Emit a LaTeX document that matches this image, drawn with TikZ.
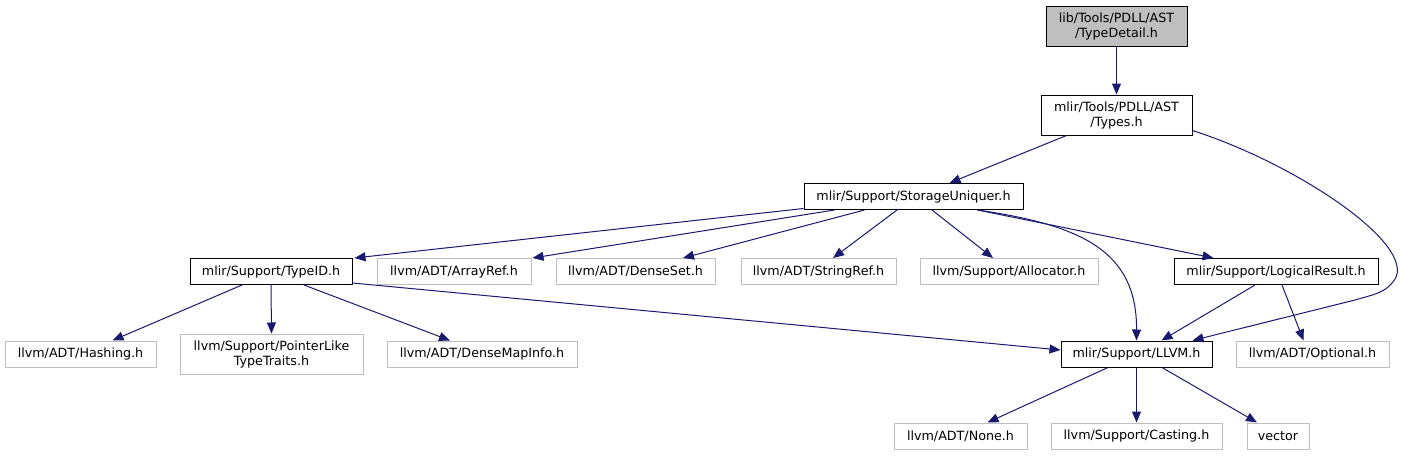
\documentclass[tikz,border=0pt]{standalone}
\usepackage{fontspec}
\setmainfont{DejaVu Sans}
\usepackage{tikz}
\usetikzlibrary{arrows.meta, calc}
\definecolor{doxyedge}{HTML}{191970}
\definecolor{doxygrey}{HTML}{BFBFBF}

\begin{document}
\begin{tikzpicture}[
  x=1pt, y=-1pt,
  file/.style={draw=black, fill=white, line width=1pt, minimum height=26pt, inner sep=1pt, align=center, font=\fontsize{12.7}{15}\selectfont},
  ext/.style={file, draw=doxygrey},
  cur/.style={file, fill=doxygrey},
  arr/.style={-{Triangle[length=11pt,width=9pt]}, doxyedge, line width=1pt}
]
\useasboundingbox (0,0) rectangle (1402,455);

\node[cur, minimum width=141pt, minimum height=40pt] (detail) at (1116.5,26) {lib/Tools/PDLL/AST\\/TypeDetail.h};
\node[file, minimum width=151pt, minimum height=40pt] (types) at (1116.5,115) {mlir/Tools/PDLL/AST\\/Types.h};
\node[file, minimum width=219pt] (su) at (913.5,196.5) {mlir/Support/StorageUniquer.h};

\node[file, minimum width=162pt] (tid) at (271,271.5) {mlir/Support/TypeID.h};
\node[ext, minimum width=154pt] (arrayref) at (454,271.5) {llvm/ADT/ArrayRef.h};
\node[ext, minimum width=159pt] (denseset) at (635.5,271.5) {llvm/ADT/DenseSet.h};
\node[ext, minimum width=155pt] (stringref) at (818.5,271.5) {llvm/ADT/StringRef.h};
\node[ext, minimum width=178pt] (allocator) at (1009,271.5) {llvm/Support/Allocator.h};
\node[file, minimum width=204pt] (logres) at (1276,271.5) {mlir/Support/LogicalResult.h};

\node[ext, minimum width=151pt] (hashing) at (80.5,354) {llvm/ADT/Hashing.h};
\node[ext, minimum width=183pt, minimum height=40pt] (ptrlike) at (271.5,354) {llvm/Support/PointerLike\\TypeTraits.h};
\node[ext, minimum width=190pt] (densemap) at (482,354) {llvm/ADT/DenseMapInfo.h};
\node[file, minimum width=151pt] (llvm) at (1136.5,354) {mlir/Support/LLVM.h};
\node[ext, minimum width=153pt] (optional) at (1312.5,354) {llvm/ADT/Optional.h};

\node[ext, minimum width=133pt] (none) at (960.5,436) {llvm/ADT/None.h};
\node[ext, minimum width=171pt] (casting) at (1136.5,436) {llvm/Support/Casting.h};
\node[ext, minimum width=62pt] (vector) at (1278,436) {vector};

% top of the graph
\draw[arr] (detail.south) -- (types.north);
\draw[arr] ($(types.south west)+(26,0)$) -- ($(su.north)+(36,0)$);
\draw[arr] ($(types.south east)+(0,-5)$) .. controls (1300,165) and (1425,250) .. (1392,283)
  .. controls (1384,293) and (1372,295) .. (1355,300) -- ($(llvm.north east)+(-20,0)$);

% StorageUniquer.h
\draw[arr] ($(su.west)+(0,12)$) -- ($(tid.north east)+(2,0)$);
\draw[arr] ($(su.south west)+(31,0)$) -- ($(arrayref.north east)+(1,0)$);
\draw[arr] ($(su.south west)+(61,0)$) -- ($(denseset.north)+(47.5,0)$);
\draw[arr] ($(su.south)+(-16.5,0)$) -- ($(stringref.north)+(14.5,0)$);
\draw[arr] ($(su.south)+(18.5,0)$) -- ($(allocator.north)+(-16,0)$);
\draw[arr] ($(su.south east)+(-46,0)$) .. controls (1080,225) and (1137,250) .. (llvm.north);
\draw[arr] ($(su.south east)+(-46,0)$) -- ($(logres.north west)+(40,0)$);

% TypeID.h
\draw[arr] ($(tid.south)+(-29,0)$) -- ($(hashing.north)+(32,0)$);
\draw[arr] (tid.south) -- (ptrlike.north);
\draw[arr] ($(tid.south)+(33,0)$) -- ($(densemap.north)+(-32,0)$);
\draw[arr] ($(tid.south east)+(0,-2)$) -- ($(llvm.west)+(0,-4)$);

% LogicalResult.h
\draw[arr] ($(logres.south)+(-21,0)$) -- ($(llvm.north)+(25,0)$);
\draw[arr] ($(logres.south)+(6,0)$) -- ($(optional.north)+(-9,0)$);

% LLVM.h
\draw[arr] ($(llvm.south)+(-28.5,0)$) -- ($(none.north)+(27,0)$);
\draw[arr] (llvm.south) -- (casting.north);
\draw[arr] ($(llvm.south)+(25.5,0)$) -- ($(vector.north)+(-21,0)$);
\end{tikzpicture}
\end{document}
